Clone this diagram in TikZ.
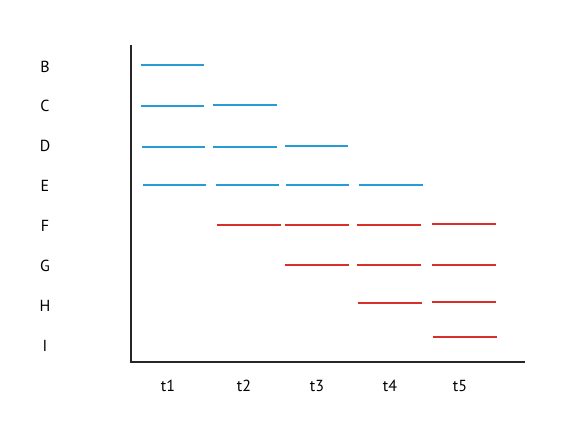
\documentclass[tikz,border=0pt]{standalone}
\usepackage{fontspec}
\setmainfont{PT Sans}
\definecolor{segblue}{RGB}{38,156,212}
\definecolor{segred}{RGB}{216,48,40}
\begin{document}
\begin{tikzpicture}[x=1pt,y=-1pt,
  lbl/.style={font=\fontsize{16}{19}\selectfont, inner sep=0pt, anchor=center},
  bseg/.style={draw=segblue, line width=2pt},
  rseg/.style={draw=segred, line width=2.5pt},
  axisline/.style={draw=black!85, line width=1.8pt}]
\useasboundingbox[fill=white] (0,0) rectangle (567,438);
% axes
\coordinate (top) at (131,45);
\coordinate (origin) at (131,362);
\coordinate (right) at (525,362);
\draw[axisline] (top) -- (origin) -- (right);
% row labels
\foreach \n/\y in {B/67,C/106,D/146,E/186,F/226,G/266,H/306,I/346}
  \node[lbl] (lab\n) at (45,\y) {\n};
% column labels
\foreach \t/\x in {1/168,2/244,3/317,4/390,5/460}
  \node[lbl] (t\t) at (\x,386) {t\t};
% blue segments
\draw[bseg] (141,65) -- (204,65);
\draw[bseg] (141,106) -- (204,106);
\draw[bseg] (213,105) -- (277,105);
\draw[bseg] (142,147) -- (205,147);
\draw[bseg] (213,147) -- (277,147);
\draw[bseg] (285,146) -- (348,146);
\draw[bseg] (143,185) -- (206,185);
\draw[bseg] (216,185) -- (279,185);
\draw[bseg] (286,185) -- (349,185);
\draw[bseg] (359,185) -- (423,185);
% red segments
\draw[rseg] (217,225) -- (281,225);
\draw[rseg] (285,225) -- (349,225);
\draw[rseg] (357,225) -- (421,225);
\draw[rseg] (432,224) -- (496,224);
\draw[rseg] (285,265) -- (349,265);
\draw[rseg] (357,265) -- (421,265);
\draw[rseg] (432,265) -- (496,265);
\draw[rseg] (358,303) -- (422,303);
\draw[rseg] (432,302) -- (496,302);
\draw[rseg] (433,337) -- (497,337);
\end{tikzpicture}
\end{document}
